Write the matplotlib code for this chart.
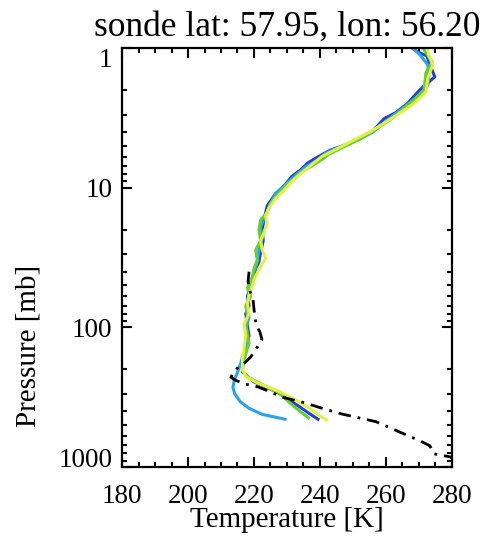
import numpy as np
import matplotlib.pyplot as plt
from matplotlib.ticker import FixedLocator, MultipleLocator, NullFormatter

plt.rcParams['font.family'] = ['Liberation Serif', 'DejaVu Serif']

TITLE = 'sonde lat: 57.95, lon: 56.20'

# dark blue profile
p_db = [1.0, 1.07, 1.14, 1.35, 1.61, 1.9, 2.1, 2.5, 2.9, 3.2, 3.6, 4.0, 4.5, 5.0, 5.4,
        6.0, 6.6, 7.5, 8.3, 9.8, 11.5, 13.5, 17, 20, 24, 29, 34, 38, 47, 60, 70, 80,
        98, 115, 137, 160, 177, 209, 246, 290, 330, 366, 410, 455]
t_db = [267.9, 269.7, 272.4, 273.5, 274.8, 271.2, 269.4, 266.5, 263.0, 259.5, 257.5,
        255.5, 251.5, 247.5, 243.0, 239.5, 236.5, 234.0, 231.5, 229.0, 226.0, 224.0,
        223.0, 222.5, 222.8, 222.0, 221.5, 220.5, 219.5, 218.0, 218.5, 217.5, 218.0,
        218.5, 217.5, 217.0, 216.5, 216.5, 220.0, 227.0, 230.5, 233.5, 236.5, 239.4]

# light blue profile
p_lb = [1.0, 1.12, 1.32, 1.6, 1.84, 2.17, 2.6, 3.0, 3.5, 4.0, 4.5, 5.0, 5.6, 6.3, 7.0,
        8.0, 9.5, 11, 13, 16, 19, 23, 28, 34, 40, 48, 58, 70, 85, 100, 125, 150, 180,
        210, 240, 270, 300, 340, 380, 420, 455]
t_lb = [268.2, 270.3, 272.7, 273.0, 272.7, 270.3, 266.0, 262.5, 259.0, 256.0, 252.0,
        247.0, 242.0, 239.5, 236.0, 233.0, 229.5, 226.5, 225.0, 223.5, 222.0, 222.5,
        221.5, 221.0, 220.0, 219.0, 218.5, 218.0, 218.5, 217.5, 218.0, 217.0, 216.0,
        215.0, 214.0, 213.6, 214.2, 215.8, 218.5, 222.5, 229.4]

# green profile
p_gr = [1.0, 1.26, 1.51, 2.0, 2.4, 2.9, 3.3, 3.8, 4.5, 5.2, 5.8, 6.2, 7.0, 7.8, 8.5,
        9.5, 11, 13, 15, 17, 20, 24, 28, 33, 38, 45, 52, 60, 70, 82, 95, 110, 130,
        155, 180, 205, 230, 260, 300, 350, 400, 445]
t_gr = [271.2, 274.0, 272.1, 271.5, 268.0, 264.0, 261.0, 257.0, 252.0, 246.5, 242.5,
        241.0, 237.5, 234.0, 232.5, 230.0, 227.5, 225.0, 224.0, 222.0, 221.5, 222.0,
        220.5, 221.0, 220.0, 219.5, 218.0, 219.0, 217.5, 218.0, 217.5, 218.0, 218.5,
        217.5, 216.8, 216.5, 218.5, 223.0, 228.0, 231.0, 234.0, 236.5]

# yellow profile
p_ye = [1.0, 1.18, 1.32, 1.64, 2.06, 2.5, 3.0, 3.5, 4.0, 4.6, 5.3, 6.0, 7.0, 8.0, 9.0,
        10.5, 12, 14, 16, 18, 21, 24, 28, 32, 37, 43, 50, 58, 68, 80, 95, 115, 140,
        170, 200, 225, 250, 290, 340, 390, 440, 460]
t_ye = [272.4, 273.3, 274.2, 272.7, 272.1, 268.5, 263.5, 259.0, 255.0, 250.0, 245.0,
        240.5, 237.0, 234.0, 231.5, 229.0, 226.5, 224.5, 223.5, 224.0, 223.0, 222.0,
        222.5, 223.5, 222.0, 220.5, 219.5, 218.5, 218.0, 218.5, 217.0, 217.5, 217.0,
        216.5, 216.5, 217.5, 221.0, 228.0, 233.5, 237.5, 240.5, 242.0]

# sonde (black dash-dot)
p_bk = [40, 47, 55, 63, 74, 87, 100, 108, 122, 139, 163, 177, 193, 215, 228, 240, 255,
        267, 290, 316, 343, 385, 418, 474, 560, 650, 705, 760, 805, 846, 900]
t_bk = [218.5, 218.2, 218.8, 219.7, 220.0, 220.3, 221.0, 221.8, 222.4, 221.0, 219.0,
        217.5, 215.2, 213.6, 213.0, 214.5, 217.3, 221.2, 225.0, 228.5, 234.5, 241.5,
        246.7, 257.0, 264.0, 270.3, 273.3, 274.0, 274.5, 279.4, 282.0]

series = [(t_db, p_db, '#2040d8'),
          (t_lb, p_lb, '#2aa0f0'),
          (t_gr, p_gr, '#66d030'),
          (t_ye, p_ye, '#e4f040')]

fig = plt.figure(figsize=(4.91, 5.39), dpi=100)
ax = fig.add_axes([0.2485, 0.1336, 0.672, 0.7774])

for t, p, c in series:
    ax.plot(t, p, color=c, lw=2.2, solid_joinstyle='round')
ax.plot(t_bk, p_bk, color='black', lw=2.0, linestyle=(0, (4.5, 2.5, 1, 2.5)))

ax.set_yscale('log')
ax.set_ylim(1000, 1)
ax.set_xlim(180, 280)

ax.xaxis.set_major_locator(MultipleLocator(20))
ax.xaxis.set_minor_locator(MultipleLocator(5))
ax.yaxis.set_major_locator(FixedLocator([1, 10, 100, 1000]))
ax.set_yticklabels(['1', '10', '100', '1000'])
ax.yaxis.set_minor_formatter(NullFormatter())

ax.tick_params(which='both', direction='in', top=True, right=True, width=1.5,
               labelsize=19.5)
ax.tick_params(axis='x', pad=12)
ax.tick_params(axis='y', pad=7)
ax.tick_params(which='major', length=7)
ax.tick_params(which='minor', length=3.5)
for s in ax.spines.values():
    s.set_linewidth(1.6)

# end labels sit inside the axis range, as in the original
ylabels = ax.get_yticklabels()
ylabels[0].set_va('top')
ylabels[-1].set_va('baseline')

ax.set_xlabel('Temperature [K]', fontsize=21)
ax.xaxis.set_label_coords(0.5, -0.095, transform=ax.transAxes)
ax.set_ylabel('Pressure [mb]', fontsize=21)
ax.yaxis.set_label_coords(-0.245, 0.29, transform=ax.transAxes)
ax.set_title(TITLE, fontsize=25.5, pad=9)

plt.savefig('out.png', dpi=100)
